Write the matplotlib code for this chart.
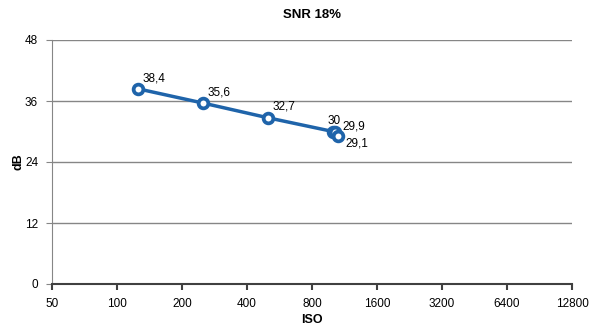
import matplotlib
matplotlib.use("Agg")
import matplotlib.pyplot as plt
from matplotlib.ticker import FixedLocator, FixedFormatter, NullLocator

iso = [125, 250, 500, 1000, 1025, 1060]
snr = [38.4, 35.6, 32.7, 30.0, 29.9, 29.1]
labels = ["38,4", "35,6", "32,7", "30", "29,9", "29,1"]
label_offsets = [(3, 3), (3, 3), (3, 4), (-4, 3), (5, 0), (5, -10)]
xticks = [50, 100, 200, 400, 800, 1600, 3200, 6400, 12800]
yticks = [0, 12, 24, 36, 48]

plt.rcParams['font.family'] = ['Liberation Sans', 'DejaVu Sans']

fig = plt.figure(figsize=(6.06, 3.34), dpi=100)
ax = fig.add_axes([52/606, 1-284/334, (572-52)/606, (284-40)/334])

blue = "#1F64AA"
ax.plot(iso, snr, color=blue, lw=2.5, marker='o', ms=7, mfc='white',
        mec=blue, mew=2.7, zorder=3)
for x, y, t, (dx, dy) in zip(iso, snr, labels, label_offsets):
    ax.annotate(t, (x, y), xytext=(dx, dy), textcoords='offset points',
                ha='left', va='bottom', fontsize=8.5, color='black')

ax.set_xscale('log', base=2)
ax.set_xlim(50, 12800)
ax.set_ylim(0, 48)
ax.xaxis.set_major_locator(FixedLocator(xticks))
ax.xaxis.set_major_formatter(FixedFormatter([str(v) for v in xticks]))
ax.xaxis.set_minor_locator(NullLocator())
ax.set_yticks(yticks)
ax.set_yticklabels([str(v) for v in yticks])

ax.grid(axis='y', color='#868686', lw=1)
ax.set_axisbelow(True)
for s in ['top', 'right']:
    ax.spines[s].set_visible(False)
ax.spines['left'].set_color('#868686')
ax.spines['bottom'].set_color('#404040')
ax.spines['bottom'].set_linewidth(1.5)
ax.tick_params(axis='y', colors='#868686', labelcolor='black', length=4, labelsize=8.5, pad=6)
ax.tick_params(axis='x', colors='#404040', labelcolor='black', length=4, width=1.5, labelsize=8.5, pad=6)

ax.set_title("SNR 18%", fontsize=9.5, fontweight='bold', pad=16)
ax.set_xlabel("ISO", fontsize=9, fontweight='bold', labelpad=3)
ax.set_ylabel("dB", fontsize=9, fontweight='bold', labelpad=0)

fig.savefig("out.png", dpi=100)
